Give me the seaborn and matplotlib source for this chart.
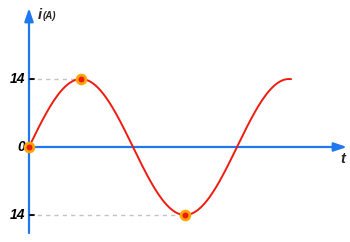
import numpy as np
import pandas as pd
import matplotlib
matplotlib.use("Agg")
import matplotlib.pyplot as plt
import seaborn as sns

# Data
amplitude = 14            # peak current (A)
periods_shown = 1.26      # how many periods of the wave are drawn
marker_t = [0.0, np.pi / 2, 3 * np.pi / 2]
marker_i = [0, 14, -14]
tick_values = [14, 0, -14]
tick_labels = ["14", "0", "14"]

t = np.linspace(0, periods_shown * 2 * np.pi, 400)
curve = pd.DataFrame({"t": t, "i": amplitude * np.sin(t)})
dots = pd.DataFrame({"t": marker_t, "i": marker_i})

sns.set_theme(style="white")
plt.rcParams["font.family"] = ["Liberation Sans", "DejaVu Sans"]

fig = plt.figure(figsize=(3.5, 2.42), dpi=100)
ax = fig.add_axes([0, 0, 1, 1])

pxx = 208 / (2 * np.pi)   # pixels per radian
pxy = 68 / 14             # pixels per ampere
x0, y0 = 29, 147
def X(px):
    return (px - x0) / pxx
def Y(py):
    return (y0 - py) / pxy

blue = "#1f78f0"
astyle = "-|>,head_length=0.65,head_width=0.22"
ax.annotate("", xy=(X(347), 0), xytext=(0, 0),
            arrowprops=dict(arrowstyle=astyle, color=blue, lw=1.6,
                            shrinkA=0, shrinkB=0))
ax.annotate("", xy=(0, Y(8)), xytext=(0, Y(233)),
            arrowprops=dict(arrowstyle=astyle, color=blue, lw=1.6,
                            shrinkA=0, shrinkB=0))

# dashed guide lines
for tt, ii in zip(marker_t[1:], marker_i[1:]):
    ax.plot([0, tt], [ii, ii], ls=(0, (3, 3)), color="#c4c4c4", lw=1, zorder=1)

# ticks and labels
for v, lab in zip(tick_values, tick_labels):
    if v != 0:
        ax.plot([X(30), X(34)], [v, v], color="black", lw=1.3, zorder=3)
    ax.text(X(25), v, lab, ha="right", va="center", fontsize=10,
            fontweight="bold", fontstyle="italic", color="black")

sns.lineplot(data=curve, x="t", y="i", ax=ax, color="#ee1c0e", lw=1.4, zorder=4)
sns.scatterplot(data=dots, x="t", y="i", ax=ax, s=40, color="#ee1c0e",
                edgecolor="#ffa500", linewidth=2, zorder=5)

ax.set_xlim(X(0), X(350))
ax.set_ylim(Y(242), Y(0))
ax.axis("off")

ax.text(X(38), Y(15), "i", fontsize=10.5, fontweight="bold",
        fontstyle="italic", ha="left", va="center")
ax.text(X(43), Y(16), "(A)", fontsize=7, fontweight="bold",
        fontstyle="italic", ha="left", va="center")
ax.text(X(343), Y(159), "t", fontsize=10.5, fontweight="bold",
        fontstyle="italic", ha="center", va="center")

fig.savefig("out.png", dpi=100)
